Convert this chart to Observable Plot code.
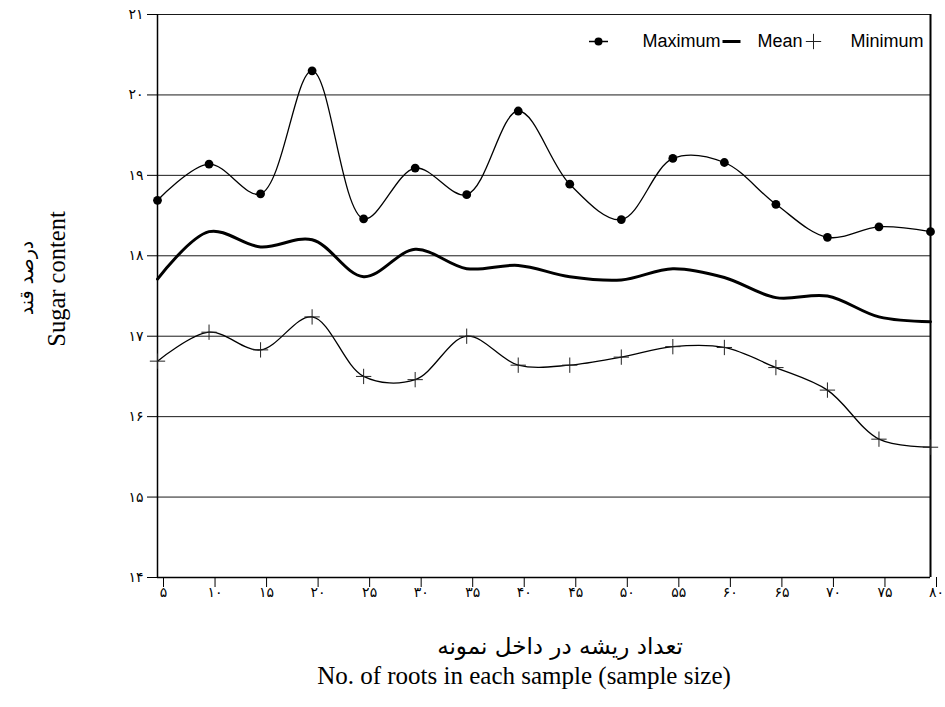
<!DOCTYPE html>
<html>
<head>
<meta charset="utf-8">
<script src="https://cdn.jsdelivr.net/npm/d3@7"></script>
<script src="https://cdn.jsdelivr.net/npm/@observablehq/plot@0.6"></script>
<style>
  html, body { margin: 0; padding: 0; background: #fff; }
  #chart { width: 945px; height: 707px; }
</style>
</head>
<body>
<div id="chart"></div>
<script>
// ---- data ----
const sampleSizes = [5, 10, 15, 20, 25, 30, 35, 40, 45, 50, 55, 60, 65, 70, 75, 80];
const maximumValues = [18.69, 19.14, 18.77, 20.30, 18.46, 19.09, 18.76, 19.80, 18.89, 18.45, 19.21, 19.16, 18.64, 18.23, 18.36, 18.30];
const meanValues    = [17.71, 18.30, 18.11, 18.20, 17.74, 18.08, 17.84, 17.88, 17.74, 17.70, 17.84, 17.73, 17.48, 17.50, 17.24, 17.18];
const minimumValues = [16.69, 17.05, 16.83, 17.24, 16.50, 16.46, 17.00, 16.64, 16.64, 16.74, 16.87, 16.86, 16.61, 16.33, 15.72, 15.62];

const xTickLabels = ["۵","۱۰","۱۵","۲۰","۲۵","۳۰","۳۵","۴۰","۴۵","۵۰","۵۵","۶۰","۶۵","۷۰","۷۵","۸۰"];
const yTicks = [14, 15, 16, 17, 18, 19, 20, 21];
const yTickLabels = ["۱۴","۱۵","۱۶","۱۷","۱۸","۱۹","۲۰","۲۱"];

const seriesNames = ["Maximum", "Mean", "Minimum"];
const xTitleFa = "تعداد ریشه در داخل نمونه";
const xTitleEn = "No. of roots in each sample (sample size)";
const yTitleFa = "درصد قند";
const yTitleEn = "Sugar content";

// ---- tables built from the arrays ----
const maxData = sampleSizes.map((x, i) => ({x, y: maximumValues[i]}));
const meanData = sampleSizes.map((x, i) => ({x, y: meanValues[i]}));
const minData = sampleSizes.map((x, i) => ({x, y: minimumValues[i]}));

// custom horizontal-line legend symbol
const hline = {
  draw(ctx, size) {
    const w = Math.sqrt(size / Math.PI);
    ctx.moveTo(-w, 0);
    ctx.lineTo(w, 0);
  }
};

const faFont = "'DejaVu Sans', sans-serif";
const serif = "'Liberation Serif', 'Times New Roman', serif";
const sans = "'Liberation Sans', Arial, sans-serif";

const chart = Plot.plot({
  width: 945,
  height: 707,
  marginLeft: 157,
  marginRight: 15,
  marginTop: 14,
  marginBottom: 130,
  style: { background: "#fff", color: "#000" },
  x: { domain: [5, 80] },
  y: { domain: [14, 21] },
  marks: [
    Plot.gridY(yTicks, { stroke: "#000", strokeOpacity: 0.9, strokeWidth: 1 }),
    Plot.ruleX([5], { y1: 14, y2: 21, stroke: "#000", strokeWidth: 1.5 }),
    Plot.ruleX([80], { y1: 14, y2: 21, stroke: "#000", strokeWidth: 2 }),
    Plot.ruleY([14], { stroke: "#000", strokeWidth: 1.5 }),
    Plot.axisY(yTicks, {
      tickSize: 10, tickPadding: 4, label: null,
      tickFormat: d => yTickLabels[yTicks.indexOf(d)],
      fontSize: 14, fontFamily: faFont
    }),
    Plot.axisX(sampleSizes, {
      tickSize: 10, tickPadding: 0, label: null, dx: 6,
      tickFormat: d => xTickLabels[sampleSizes.indexOf(d)],
      fontSize: 14, fontFamily: faFont
    }),
    // series
    Plot.line(maxData, { x: "x", y: "y", curve: "catmull-rom", stroke: "#000", strokeWidth: 1.3 }),
    Plot.line(meanData, { x: "x", y: "y", curve: "catmull-rom", stroke: "#000", strokeWidth: 3 }),
    Plot.line(minData, { x: "x", y: "y", curve: "catmull-rom", stroke: "#000", strokeWidth: 1.3 }),
    Plot.dot(maxData, { x: "x", y: "y", r: 4.4, fill: "#000", stroke: "none" }),
    Plot.dot(minData, { x: "x", y: "y", r: 5, symbol: "plus", stroke: "#222", strokeWidth: 1 }),
    // legend
    Plot.dot([seriesNames[0]], { frameAnchor: "top-left", dx: 441, dy: 27, r: 9.5, symbol: hline, stroke: "#000", strokeWidth: 1.5 }),
    Plot.dot([seriesNames[0]], { frameAnchor: "top-left", dx: 441, dy: 27, r: 4, fill: "#000", stroke: "none" }),
    Plot.dot([seriesNames[1]], { frameAnchor: "top-left", dx: 574, dy: 27, r: 9, symbol: hline, stroke: "#000", strokeWidth: 3 }),
    Plot.dot([seriesNames[2]], { frameAnchor: "top-left", dx: 656, dy: 27, r: 5, symbol: "plus", stroke: "#222", strokeWidth: 1 }),
    Plot.text([seriesNames[0]], { frameAnchor: "top-left", dx: 485, dy: 27, text: d => d, textAnchor: "start", lineAnchor: "middle", fontSize: 18, fontFamily: sans }),
    Plot.text([seriesNames[1]], { frameAnchor: "top-left", dx: 600, dy: 27, text: d => d, textAnchor: "start", lineAnchor: "middle", fontSize: 18, fontFamily: sans }),
    Plot.text([seriesNames[2]], { frameAnchor: "top-left", dx: 693, dy: 27, text: d => d, textAnchor: "start", lineAnchor: "middle", fontSize: 18, fontFamily: sans }),
    // axis titles
    Plot.text([xTitleFa], { frameAnchor: "bottom", text: d => d, dx: 16, dy: 69, textAnchor: "middle", lineAnchor: "middle", fontSize: 23, fontFamily: faFont }),
    Plot.text([xTitleEn], { frameAnchor: "bottom", text: d => d, dx: -20, dy: 98, textAnchor: "middle", lineAnchor: "middle", fontSize: 25, fontFamily: serif }),
    Plot.text([yTitleFa], { frameAnchor: "left", text: d => d, dx: -131, dy: -18, rotate: -90, textAnchor: "middle", lineAnchor: "middle", fontSize: 19, fontFamily: faFont }),
    Plot.text([yTitleEn], { frameAnchor: "left", text: d => d, dx: -100, dy: -17, rotate: -90, textAnchor: "middle", lineAnchor: "middle", fontSize: 24.5, fontFamily: serif })
  ]
});

document.getElementById("chart").appendChild(chart);
</script>
</body>
</html>
